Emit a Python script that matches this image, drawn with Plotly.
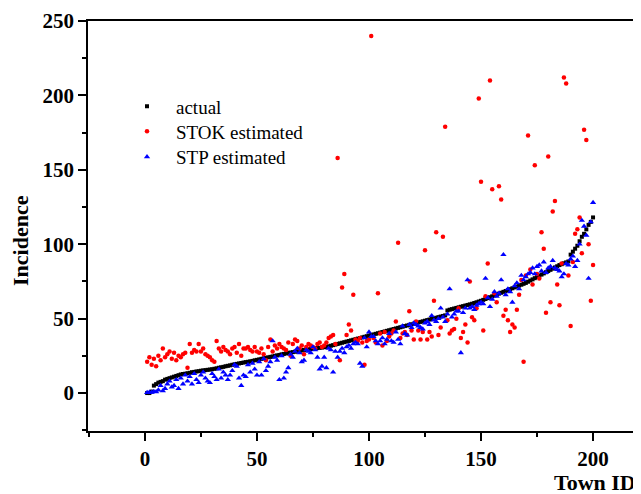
import plotly.graph_objects as go

town_id = list(range(1, 201))

actual = [
    0, 0, 1, 5, 6, 7, 7.5, 8, 9, 9.5,
    10, 10.5, 11, 11.5, 12, 12.5, 12.8, 13, 13.3, 13.6,
    14, 14.2, 14.5, 14.7, 15, 15.2, 15.4, 15.6, 15.8, 16,
    16.3, 16.6, 17, 17.3, 17.6, 18, 18.3, 18.6, 19, 19.3,
    19.6, 19.9, 20.2, 20.5, 20.8, 21, 21.3, 21.6, 22, 22.3,
    22.6, 23, 23.3, 23.6, 24, 24.3, 24.6, 25, 25.3, 25.6,
    26, 26.3, 26.6, 27, 27.2, 27.5, 27.8, 28, 28.3, 28.6,
    29, 29.2, 29.4, 29.6, 29.8, 30, 30.2, 30.4, 30.6, 30.8,
    31, 31.4, 31.8, 32.2, 32.6, 33, 33.4, 33.8, 34.2, 34.6,
    35, 35.4, 35.8, 36.2, 36.6, 37, 37.4, 37.8, 38.2, 38.6,
    39, 39.4, 39.8, 40.2, 40.6, 41, 41.4, 41.8, 42.2, 42.6,
    43, 43.4, 43.8, 44.2, 44.6, 45, 45.4, 45.8, 46.2, 46.6,
    47, 47.4, 47.8, 48.2, 48.6, 49, 49.4, 49.8, 50.2, 50.6,
    51, 51.4, 51.8, 52.2, 55.5, 56, 56.4, 56.8, 57.2, 57.6,
    58, 58.4, 58.8, 59.2, 59.6, 60, 60.5, 61, 61.5, 62,
    62.6, 63.2, 63.8, 64.4, 65, 65.6, 66.2, 66.8, 67.4, 68,
    68.6, 69.2, 69.8, 70.4, 71, 71.6, 72.2, 72.8, 73.4, 74,
    74.8, 75.6, 76.4, 77.2, 78, 78.8, 79.6, 80.4, 81.2, 82,
    82.8, 83.6, 84.4, 85.2, 86, 86.6, 87.2, 87.8, 88.4, 93,
    95, 97, 99, 102, 105, 107, 110, 113, 115, 118,
]

stok = [
    21, 24, 19, 23, 18, 25, 22, 30, 24, 26,
    28, 23, 27, 22, 25, 24, 26, 27, 17, 33,
    27, 29, 28, 33, 28, 30, 26, 25, 24, 22,
    21, 35, 30, 28, 31, 29, 28, 26, 30, 31,
    27, 33, 25, 30, 30, 31, 29, 28, 31, 28,
    27, 30, 26, 22, 31, 36, 28, 32, 30, 33,
    31, 30, 29, 34, 25, 33, 36, 35, 30, 32,
    26, 31, 33, 32, 31, 30, 33, 34, 31, 32,
    34, 37, 38, 39, 33, 158, 22, 71, 80, 39,
    46, 42, 66, 36, 35, 37, 34, 19, 35, 36,
    240, 37, 34, 67, 40, 32, 41, 35, 38, 40,
    42, 48, 101, 37, 40, 41, 39, 55, 42, 36,
    48, 42, 36, 41, 96, 36, 41, 38, 62, 108,
    39, 44, 105, 179, 49, 40, 42, 43, 50, 57,
    37, 41, 46, 34, 75, 51, 49, 57, 198, 142,
    42, 65, 87, 210, 137, 67, 61, 139, 130, 52,
    56, 49, 41, 46, 44, 56, 66, 76, 21, 79,
    173, 83, 73, 153, 80, 77, 108, 97, 54, 159,
    61, 122, 129, 73, 59, 87, 212, 208, 79, 45,
    88, 107, 110, 118, 94, 177, 170, 100, 62, 86,
]

stp = [
    0.3, 0.5, 0.5, 1, 0.8, 2, 5, 1.5, 3, 6,
    8, 4, 5, 9, 3, 10, 6, 12, 8, 11,
    6, 13, 9, 7, 12, 14, 10, 8, 7, 13,
    11, 9, 16, 10, 14, 12, 9, 12, 15, 19,
    18, 10, 5, 12, 11, 19, 14, 20, 16, 12,
    21, 12, 23, 15, 18, 21, 35, 24, 22, 9,
    25, 10, 14, 17, 26, 24, 28, 30, 27, 21,
    22, 29, 28, 27, 31, 29, 24, 16, 18, 24,
    17, 30, 29, 14, 28, 24, 28, 30, 27, 31,
    32, 30, 33, 34, 33, 20, 18, 37, 31, 41,
    38, 38, 35, 33, 35, 37, 33, 36, 40, 35,
    34, 41, 36, 33, 45, 40, 39, 46, 44, 47,
    46, 45, 44, 43, 47, 48, 46, 52, 49, 48,
    50, 57, 51, 48, 53, 70, 51, 53, 55, 55,
    27, 54, 57, 76, 57, 58, 56, 59, 60, 61,
    60, 77, 64, 58, 63, 68, 65, 67, 76, 93,
    66, 70, 68, 61, 72, 74, 70, 79, 76, 78,
    80, 81, 84, 80, 85, 86, 82, 88, 81, 84,
    85, 89, 84, 83, 82, 78, 80, 87, 86, 90,
    92, 85, 89, 100, 116, 112, 106, 77, 115, 128,
]

x_ticks = [0, 50, 100, 150, 200]
y_ticks = [0, 50, 100, 150, 200, 250]
minor_ticks = [-25, 25, 75, 125, 175, 225]

SERIF = "Liberation Serif"

# layout geometry (the page body adds an 8px offset)
W, H = 641, 494
ML, MT, PW, PH = 80, 13, 553, 410

fig = go.Figure()
fig.add_trace(go.Scatter(x=town_id, y=actual, mode="markers", name="actual", legend="legend",
                         marker=dict(symbol="square", size=4, color="black")))
fig.add_trace(go.Scatter(x=town_id, y=stok, mode="markers", name="STOK estimated", legend="legend2",
                         marker=dict(symbol="circle", size=4.5, color="#FF0000")))
fig.add_trace(go.Scatter(x=town_id, y=stp, mode="markers", name="STP estimated", legend="legend3",
                         marker=dict(symbol="triangle-up", size=5.5, color="#0000FF")))

axis_common = dict(
    showgrid=False, zeroline=False, showline=True, linecolor="black", linewidth=1.5,
    ticks="outside", ticklen=8, tickwidth=1.5, tickcolor="black",
    tickfont=dict(family=SERIF, size=21, color="black", weight="bold"),
    minor=dict(tickvals=minor_ticks, ticks="outside", ticklen=4, tickwidth=1.5,
               tickcolor="black", showgrid=False),
)


def px_x(px):
    return (px - ML) / PW


def px_y(py):
    return (MT + PH - py) / PH


def legend_at(py):
    return dict(x=px_x(110), y=px_y(py), xanchor="left", yanchor="middle",
                bgcolor="rgba(0,0,0,0)", itemwidth=48,
                font=dict(family=SERIF, size=19, color="black"))


fig.update_layout(
    width=W, height=H,
    margin=dict(l=ML, r=W - ML - PW, t=MT, b=H - MT - PH, autoexpand=False),
    paper_bgcolor="white", plot_bgcolor="white",
    xaxis=dict(range=[-25.4, 221.4], tickvals=x_ticks, mirror=True, **axis_common),
    yaxis=dict(range=[-25.5, 250], tickvals=y_ticks, **axis_common),
    showlegend=True,
    legend=legend_at(98.5),
    legend2=legend_at(123.5),
    legend3=legend_at(149),
    annotations=[
        dict(text="Incidence", xref="paper", yref="paper",
             x=px_x(12), y=px_y(233),
             showarrow=False, textangle=-90,
             font=dict(family=SERIF, size=22, color="black", weight="bold"),
             xanchor="center", yanchor="middle"),
        dict(text="Town ID", xref="paper", yref="paper", x=px_x(630), y=px_y(474),
             showarrow=False, xanchor="right", yanchor="middle",
             font=dict(family=SERIF, size=22, color="black", weight="bold")),
    ],
)

fig.write_html("out.html")
